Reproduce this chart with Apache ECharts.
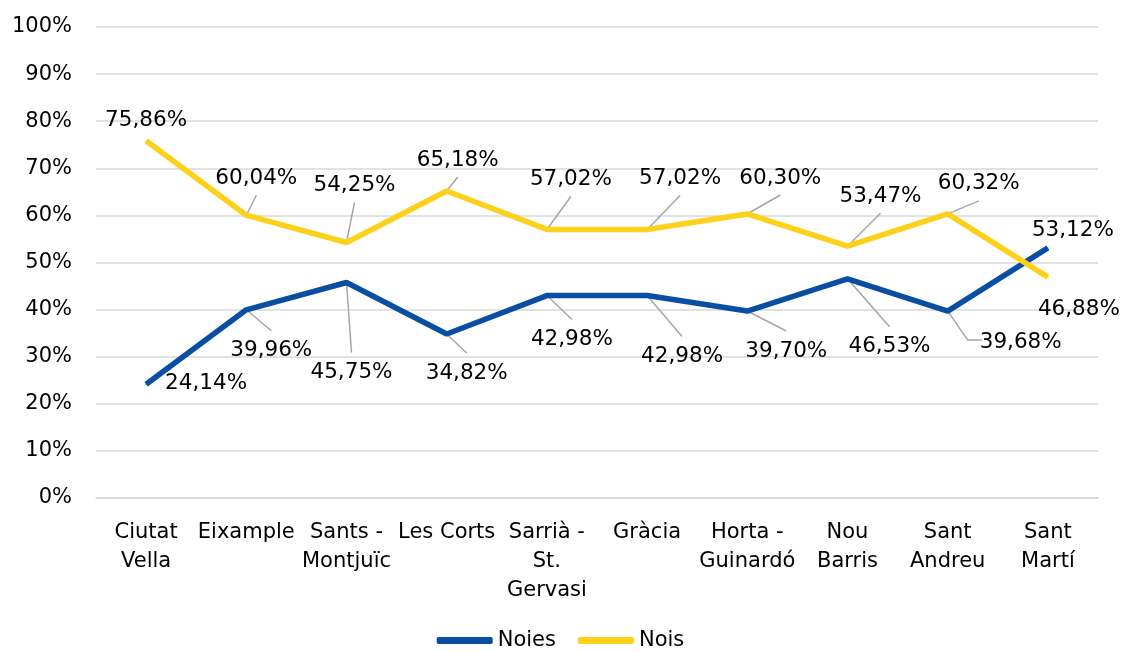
<!DOCTYPE html>
<html>
<head>
<meta charset="utf-8">
<script src="https://cdn.jsdelivr.net/npm/echarts@6/dist/echarts.min.js"></script>
<style>
  html, body { margin: 0; padding: 0; background: #fff; }
  #chart { width: 1121px; height: 652px; }
</style>
</head>
<body>
<div id="chart"></div>
<script>
  var districts = ['Ciutat\nVella', 'Eixample', 'Sants -\nMontjuïc', 'Les Corts', 'Sarrià -\nSt.\nGervasi',
    'Gràcia', 'Horta -\nGuinardó', 'Nou\nBarris', 'Sant\nAndreu', 'Sant\nMartí'];
  var noies = [24.14, 39.96, 45.75, 34.82, 42.98, 42.98, 39.70, 46.53, 39.68, 53.12];
  var nois = [75.86, 60.04, 54.25, 65.18, 57.02, 57.02, 60.30, 53.47, 60.32, 46.88];

  // label offsets from each point (px), as placed in the original
  var noiesOffsets = [[60, -1], [25, 41], [5, 90], [20, 39], [25, 44], [35, 61], [39, 40], [42, 68], [73, 31], [25, -17]];
  var noisOffsets = [[0, -20], [10, -37], [8, -57], [11, -31], [24, -50], [33, -51], [33, -36], [33, -50], [31, -30], [31, 32]];
  // leader line kind per label
  var noiesLeaders = ['none', 'down', 'down', 'down', 'down', 'down', 'down', 'down', 'side', 'none'];
  var noisLeaders = ['none', 'up', 'up', 'up', 'up', 'up', 'up', 'up', 'up', 'none'];

  var font = 'Verdana, "DejaVu Sans", sans-serif';

  function pct(v) {
    return v.toFixed(2).replace('.', ',') + '%';
  }

  function lineSeries(name, values, color, offsets) {
    return {
      name: name,
      type: 'line',
      z: 3,
      data: values,
      symbol: 'circle',
      symbolSize: 1,
      itemStyle: { color: color },
      lineStyle: { color: color, width: 5.5 },
      emphasis: { disabled: true },
      label: {
        show: true,
        position: 'inside',
        color: '#000',
        fontFamily: font,
        fontSize: 21.5,
        formatter: function (p) { return pct(p.value); }
      },
      labelLayout: function (p) {
        var o = offsets[p.dataIndex];
        return { dx: o[0], dy: o[1] };
      }
    };
  }

  // grey leader lines from each point towards its label
  function leaderSeries(values, offsets, leaders) {
    return {
      type: 'custom',
      z: 2,
      silent: true,
      data: values.map(function (v, i) { return [i, v]; }),
      renderItem: function (params, api) {
        var i = params.dataIndex;
        var kind = leaders[i];
        if (kind === 'none') return null;
        var p = api.coord([api.value(0), api.value(1)]);
        var cx = p[0] + offsets[i][0];
        var cy = p[1] + offsets[i][1];
        var pts;
        if (kind === 'up') pts = [p, [cx, cy + 17]];
        else if (kind === 'down') pts = [p, [cx, cy - 20]];
        else pts = [p, [cx - 53, cy - 2], [cx - 39, cy - 2]];
        return {
          type: 'polyline',
          shape: { points: pts },
          style: { stroke: '#a6a6a6', lineWidth: 1.5, fill: null }
        };
      }
    };
  }

  var chart = echarts.init(document.getElementById('chart'), null, { renderer: 'canvas' });
  chart.setOption({
    backgroundColor: '#fff',
    animation: false,
    grid: { left: 96, right: 23, top: 27, bottom: 154 },
    legend: {
      bottom: -4,
      left: 'center',
      itemWidth: 56,
      itemHeight: 7,
      itemGap: 22,
      icon: 'roundRect',
      textStyle: { fontFamily: font, fontSize: 21, color: '#000' },
      data: ['Noies', 'Nois']
    },
    xAxis: {
      type: 'category',
      data: districts,
      boundaryGap: true,
      axisLine: { lineStyle: { color: '#d9d9d9', width: 1.5 } },
      axisTick: { show: false },
      axisLabel: {
        interval: 0,
        margin: 20,
        color: '#000',
        fontFamily: font,
        fontSize: 21,
        lineHeight: 29
      }
    },
    yAxis: {
      type: 'value',
      min: 0,
      max: 100,
      interval: 10,
      axisLine: { show: false },
      axisTick: { show: false },
      splitLine: { lineStyle: { color: '#d9d9d9', width: 1.5 } },
      axisLabel: {
        margin: 24,
        color: '#000',
        fontFamily: font,
        fontSize: 21,
        formatter: function (v) { return v + '%'; }
      }
    },
    series: [
      leaderSeries(noies, noiesOffsets, noiesLeaders),
      leaderSeries(nois, noisOffsets, noisLeaders),
      lineSeries('Noies', noies, '#0a4ea3', noiesOffsets),
      lineSeries('Nois', nois, '#fdd01a', noisOffsets)
    ]
  });
</script>
</body>
</html>
